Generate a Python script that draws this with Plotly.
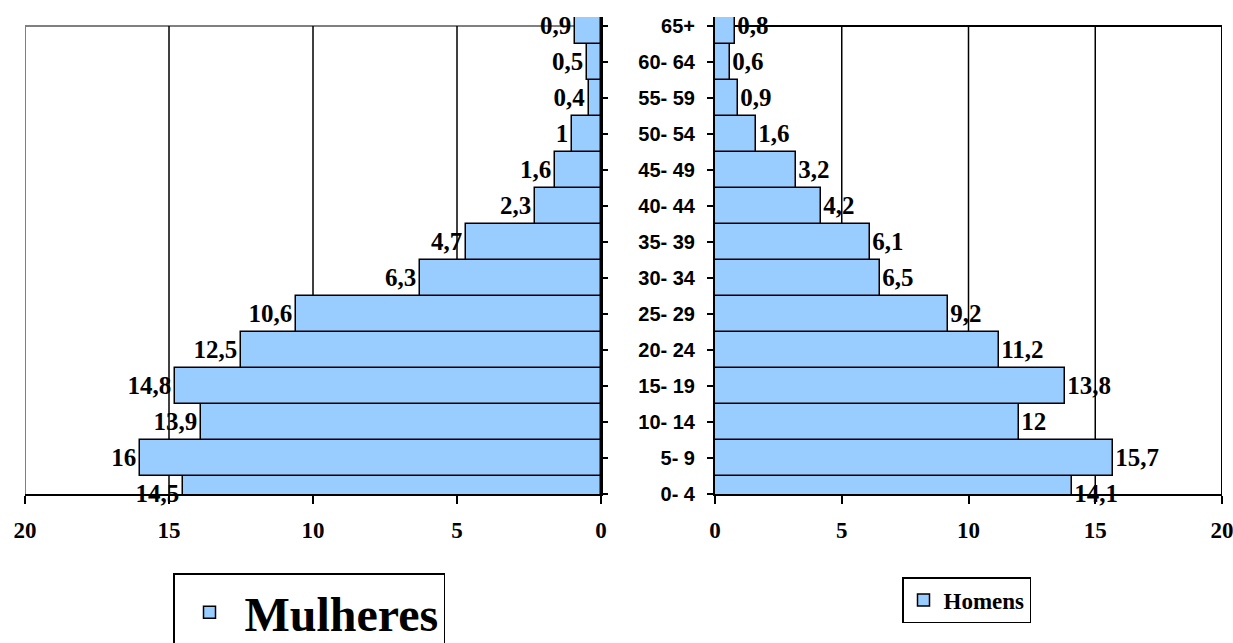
import plotly.graph_objects as go

ages = ["0- 4", "5- 9", "10- 14", "15- 19", "20- 24", "25- 29", "30- 34",
        "35- 39", "40- 44", "45- 49", "50- 54", "55- 59", "60- 64", "65+"]
mulheres = [14.5, 16, 13.9, 14.8, 12.5, 10.6, 6.3, 4.7, 2.3, 1.6, 1, 0.4, 0.5, 0.9]
homens = [14.1, 15.7, 12, 13.8, 11.2, 9.2, 6.5, 6.1, 4.2, 3.2, 1.6, 0.9, 0.6, 0.8]
x_ticks = [0, 5, 10, 15, 20]

W, H = 1233, 643
FILL = "#99CCFF"
SERIF = "Liberation Serif"
SANS = "Liberation Sans"


def fmt(v):
    return f"{v:g}".replace(".", ",")


label_font = dict(family=SERIF, size=25, color="black", weight="bold")

fig = go.Figure()
fig.add_trace(go.Bar(
    y=ages, x=mulheres, orientation="h", name="Mulheres",
    xaxis="x", yaxis="y", width=1,
    marker=dict(color=FILL, line=dict(color="black", width=1.5)),
    text=[fmt(v) for v in mulheres], textposition="outside",
    textfont=label_font,
    cliponaxis=False, constraintext="none", legend="legend",
    hoverinfo="x+y",
))
fig.add_trace(go.Bar(
    y=ages, x=homens, orientation="h", name="Homens",
    xaxis="x2", yaxis="y2", width=1,
    marker=dict(color=FILL, line=dict(color="black", width=1.5)),
    text=[fmt(v) for v in homens], textposition="outside",
    textfont=label_font,
    cliponaxis=False, constraintext="none", legend="legend2",
    hoverinfo="x+y",
))

top = len(ages) - 1
ymax = top + 0.25
xmax = max(x_ticks)

shapes = []
# left panel frame (grey) and gridlines
shapes.append(dict(type="line", xref="x", yref="y", x0=xmax, x1=0, y0=top, y1=top,
                   line=dict(color="#808080", width=2), layer="below"))
shapes.append(dict(type="line", xref="x", yref="y", x0=xmax, x1=xmax, y0=-0.5, y1=top,
                   line=dict(color="#808080", width=2), layer="below"))
# right panel frame (black)
shapes.append(dict(type="line", xref="x2", yref="y2", x0=0, x1=xmax, y0=top, y1=top,
                   line=dict(color="black", width=2), layer="below"))
shapes.append(dict(type="line", xref="x2", yref="y2", x0=xmax, x1=xmax, y0=-0.5, y1=top,
                   line=dict(color="black", width=2), layer="below"))
for t in x_ticks[1:-1]:
    shapes.append(dict(type="line", xref="x", yref="y", x0=t, x1=t, y0=-0.5, y1=top,
                       line=dict(color="black", width=1.5), layer="below"))
    shapes.append(dict(type="line", xref="x2", yref="y2", x0=t, x1=t, y0=-0.5, y1=top,
                       line=dict(color="black", width=1.5), layer="below"))

ydom = [(H - 494) / H, (H - 17) / H]
xfont = dict(family=SERIF, size=23, color="black", weight="bold")

common_x = dict(tickvals=x_ticks, ticktext=[str(t) for t in x_ticks],
                showline=True, linecolor="black", linewidth=2,
                ticks="outside", ticklen=8, tickwidth=2, tickcolor="black",
                showgrid=False, zeroline=False, tickfont=xfont,
                ticklabelstandoff=6, ticklabeloverflow="allow",
                automargin=False, fixedrange=True)
common_y = dict(domain=ydom, type="category", categoryorder="array",
                categoryarray=ages, range=[0, ymax],
                showline=True, linecolor="black", linewidth=2,
                ticks="outside", tickwidth=1.5, tickcolor="black",
                showgrid=False, zeroline=False, automargin=False, fixedrange=True)

fig.update_layout(
    template="none",
    width=W, height=H,
    margin=dict(l=0, r=0, t=0, b=0, pad=0, autoexpand=False),
    paper_bgcolor="white", plot_bgcolor="rgba(0,0,0,0)",
    bargap=0, showlegend=True,
    shapes=shapes,
    xaxis=dict(domain=[25 / W, 601 / W], range=[xmax, 0], anchor="y", **common_x),
    xaxis2=dict(domain=[715 / W, 1222 / W], range=[0, xmax], anchor="y2", **common_x),
    yaxis=dict(anchor="x", side="right", ticklen=5, showticklabels=False, **common_y),
    yaxis2=dict(anchor="x2", side="left", ticklen=6, showticklabels=True,
                tickfont=dict(family=SANS, size=20, color="black", weight="bold"),
                ticklabelstandoff=8, **common_y),
    legend=dict(x=173 / W, y=1 - 573 / H, xanchor="left", yanchor="top",
                bordercolor="black", borderwidth=1.5, bgcolor="white",
                font=dict(family=SERIF, size=48, color="black", weight="bold"),
                itemwidth=60),
    legend2=dict(x=902 / W, y=1 - 577 / H, xanchor="left", yanchor="top",
                 bordercolor="black", borderwidth=1.5, bgcolor="white",
                 font=dict(family=SERIF, size=23, color="black", weight="bold"),
                 itemwidth=30),
)

fig.write_html(
    "out.html",
    config={"displayModeBar": False},
    post_script="document.body.style.margin='0';document.body.style.overflow='hidden';",
)
